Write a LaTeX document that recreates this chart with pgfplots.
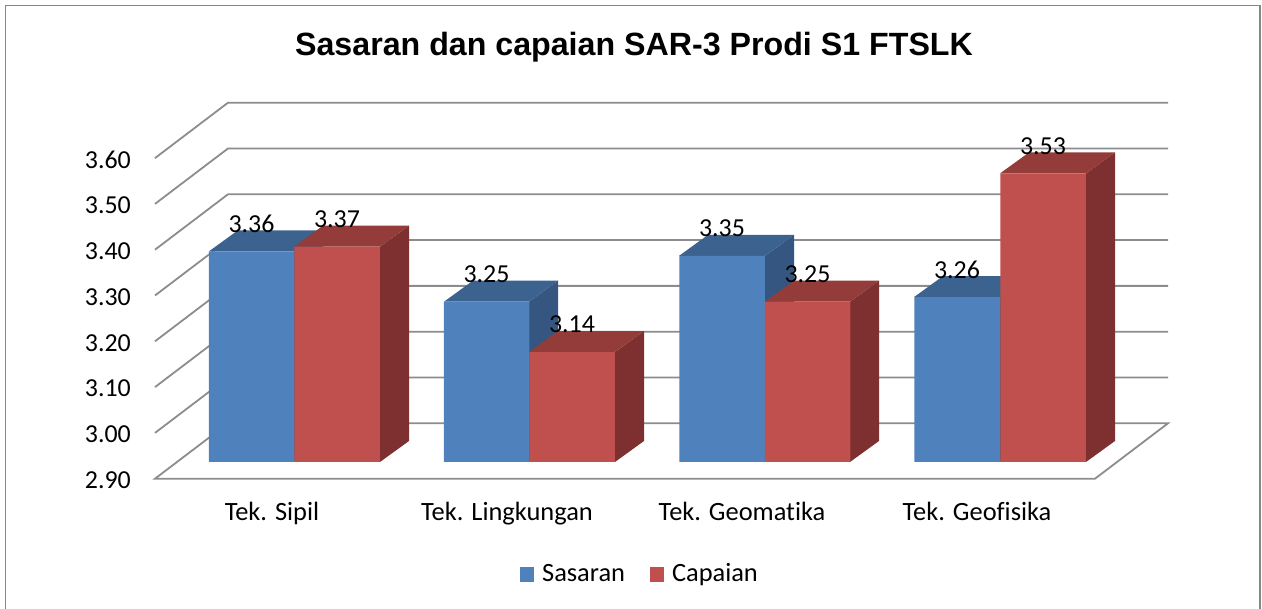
\documentclass[border=0pt]{standalone}
\usepackage{fontspec}
\setmainfont{Carlito}[Ligatures=NoCommon]
\newfontfamily\titlefont{Liberation Sans}
\usepackage{pgfplots}
\usepackage{pgfplotstable}
\pgfplotsset{compat=1.18}
\definecolor{cblue}{HTML}{4F81BD}
\definecolor{cbluetop}{HTML}{3C6290}
\definecolor{cblueside}{HTML}{355680}
\definecolor{cred}{HTML}{C0504D}
\definecolor{credtop}{HTML}{933C39}
\definecolor{credside}{HTML}{7D302F}
\definecolor{cgrid}{HTML}{8C8C8C}
\definecolor{cframe}{HTML}{868686}
\pgfplotstableread{
x v
251.5 3.36
486.5 3.25
722 3.35
957 3.26
}\sasaran
\pgfplotstableread{
x v
337 3.37
572 3.14
807.5 3.25
1043 3.53
}\capaian
% grid line of the wall at value #1
\newcommand\wall[1]{\addplot[cgrid,line width=1.8bp,forget plot] coordinates {(155,#1) (228,{#1+0.121}) (1168,{#1+0.121})};}
% side and top face of a bar: right edge x, left edge x, value, colours
\newcommand\faces[5]{%
\addplot[fill=#5,draw=none,forget plot] coordinates {(#1,2.9) ({#1+29},2.9459) ({#1+29},{#3+0.0459}) (#1,#3)} --cycle;
\addplot[fill=#4,draw=none,forget plot] coordinates {(#2,#3) (#1,#3) ({#1+29},{#3+0.0459}) ({#2+29},{#3+0.0459})} --cycle;
}
\pgfplotsset{barlabels/.style={
  nodes near coords={\pgfmathprintnumber[fixed,fixed zerofill,precision=2,assume math mode=true]{\pgfplotspointmeta}},
  every node near coord/.append style={anchor=center,yshift=27.5bp,font=\fontsize{26}{30}\selectfont,text=black,inner sep=0pt},
}}
\begin{document}
\begin{tikzpicture}[x=1bp,y=1bp]
\useasboundingbox (0,0) rectangle (1262,609);
\draw[cframe,line width=1.3bp] (5.5,-2) -- (5.5,603.5) -- (1260,603.5) -- (1260,-2);
\node[anchor=base,font=\titlefont\bfseries\fontsize{32.3}{36}\selectfont] at (634,553) {Sasaran dan capaian SAR-3 Prodi S1 FTSLK};
\begin{axis}[
  at={(155bp,130.3bp)},anchor=south west,
  scale only axis,width=1013bp,height=376bp,
  xmin=155,xmax=1168,ymin=2.9,ymax=3.721,
  clip=false,
  axis line style={draw=none},
  major tick length=0pt,
  tick style={draw=none},
  xtick={272,507,742,977},
  xticklabels={Tek. Sipil,Tek. Lingkungan,Tek. Geomatika,Tek. Geofisika},
  ytick={2.9,3.0,3.1,3.2,3.3,3.4,3.5,3.6},
  /pgf/number format/assume math mode=true,
  yticklabel={\pgfmathprintnumber[fixed,fixed zerofill,precision=2]{\tick}},
  yticklabel style={anchor=east,inner sep=0pt,xshift=-24bp,yshift=-1.5bp,font=\fontsize{26}{30}\selectfont,text=black},
  xticklabel style={anchor=base,inner sep=0pt,yshift=-41.5bp,font=\fontsize{26.5}{30}\selectfont,text=black},
]
\addplot[cgrid,line width=1.8bp,forget plot] coordinates {(228,3.021) (1168,3.021) (1095,2.9) (155,2.9) (228,3.021)};
\wall{3.0}\wall{3.1}\wall{3.2}\wall{3.3}\wall{3.4}\wall{3.5}\wall{3.6}
\end{axis}
\begin{axis}[
  at={(0bp,147bp)},anchor=south west,
  scale only axis,width=1262bp,height=362bp,
  xmin=0,xmax=1262,ymin=2.9,ymax=3.6904,
  axis line style={draw=none},
  major tick length=0pt,
  xtick=\empty,ytick=\empty,
  legend cell align=left,
  legend style={at={(axis cs:640,2.6532)},anchor=center,draw=none,fill=none,
    font=\fontsize{26.5}{30}\selectfont,legend columns=2,inner sep=0pt,
    nodes={text height=18bp,text depth=6bp},
    /tikz/every even column/.append style={column sep=23bp}},
]
\faces{294}{209}{3.36}{cbluetop}{cblueside}
\faces{529}{444}{3.25}{cbluetop}{cblueside}
\faces{765}{679}{3.35}{cbluetop}{cblueside}
\faces{1000}{914}{3.26}{cbluetop}{cblueside}
\addplot[ybar,bar width=85.5bp,bar shift=0pt,fill=cblue,draw=none,barlabels,
  legend image code/.code={\fill[cblue] (0bp,-7bp) rectangle (14bp,8bp);\path (20bp,0bp);}]
  table[x=x,y=v]{\sasaran};
\addlegendentry{Sasaran}
\faces{380}{294}{3.37}{credtop}{credside}
\faces{615}{529}{3.14}{credtop}{credside}
\faces{850}{765}{3.25}{credtop}{credside}
\faces{1086}{1000}{3.53}{credtop}{credside}
\addplot[ybar,bar width=85.5bp,bar shift=0pt,fill=cred,draw=none,barlabels,
  legend image code/.code={\fill[cred] (0bp,-7bp) rectangle (14bp,8bp);\path (20bp,0bp);}]
  table[x=x,y=v]{\capaian};
\addlegendentry{Capaian}
\end{axis}
\end{tikzpicture}
\end{document}
